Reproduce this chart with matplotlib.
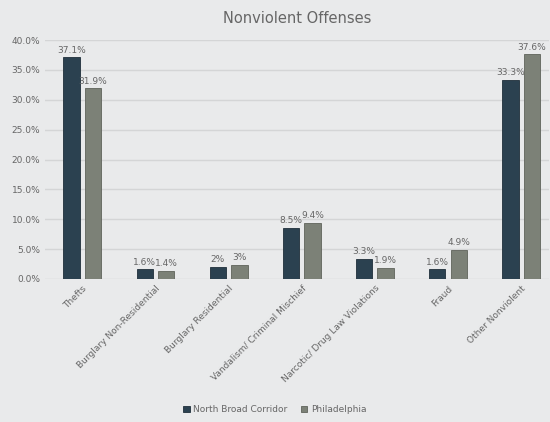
import numpy as np
import matplotlib.pyplot as plt
from matplotlib.ticker import FuncFormatter

categories = [
    "Thefts",
    "Burglary Non-Residential",
    "Burglary Residential",
    "Vandalism/ Criminal Mischief",
    "Narcotic/ Drug Law Violations",
    "Fraud",
    "Other Nonviolent",
]
north_broad = [37.1, 1.6, 2.0, 8.5, 3.3, 1.6, 33.3]
philadelphia = [31.9, 1.4, 2.4, 9.4, 1.9, 4.9, 37.6]
north_labels = ["37.1%", "1.6%", "2%", "8.5%", "3.3%", "1.6%", "33.3%"]
phila_labels = ["31.9%", "1.4%", "3%", "9.4%", "1.9%", "4.9%", "37.6%"]

bg = "#e9eaeb"
dark = "#2b4150"
grey = "#7c8177"
text_col = "#666666"

fig = plt.figure(figsize=(5.5, 4.22), dpi=100, facecolor=bg)
ax = fig.add_axes([0.082, 0.339, 0.916, 0.566], facecolor=bg)

x = np.arange(len(categories))
w = 0.225
off = 0.147
b1 = ax.bar(x - off, north_broad, w, color=dark, edgecolor="#1f2f3a",
            linewidth=0.6, label="North Broad Corridor", zorder=3)
b2 = ax.bar(x + off, philadelphia, w, color=grey, edgecolor="#5f635b",
            linewidth=0.6, label="Philadelphia", zorder=3)

ax.bar_label(b1, labels=north_labels, padding=2, fontsize=6.5, color=text_col)
ax.bar_label(b2, labels=phila_labels, padding=2, fontsize=6.5, color=text_col)

ax.set_xlim(-0.51, 6.38)
ax.set_ylim(0, 40)
ax.set_yticks(np.arange(0, 41, 5))
ax.yaxis.set_major_formatter(FuncFormatter(lambda v, p: f"{v:.1f}%"))
ax.grid(axis="y", color="#d4d5d6", linewidth=1, zorder=0)
for s in ax.spines.values():
    s.set_visible(False)
ax.tick_params(axis="both", length=0, labelsize=6.5, colors=text_col)
ax.set_xticks(x)
ax.set_xticklabels(categories, rotation=45, ha="right", rotation_mode="anchor")

ax.set_title("Nonviolent Offenses", fontsize=10.5, color=text_col, pad=12)

fig.legend(handles=[b1, b2], loc="lower center", bbox_to_anchor=(0.5, 0.0),
           ncol=2, frameon=False, fontsize=6.5, labelcolor=text_col,
           handlelength=0.7, handleheight=0.7, columnspacing=1.5, handletextpad=0.4)

fig.savefig("out.png", dpi=100, facecolor=bg)
